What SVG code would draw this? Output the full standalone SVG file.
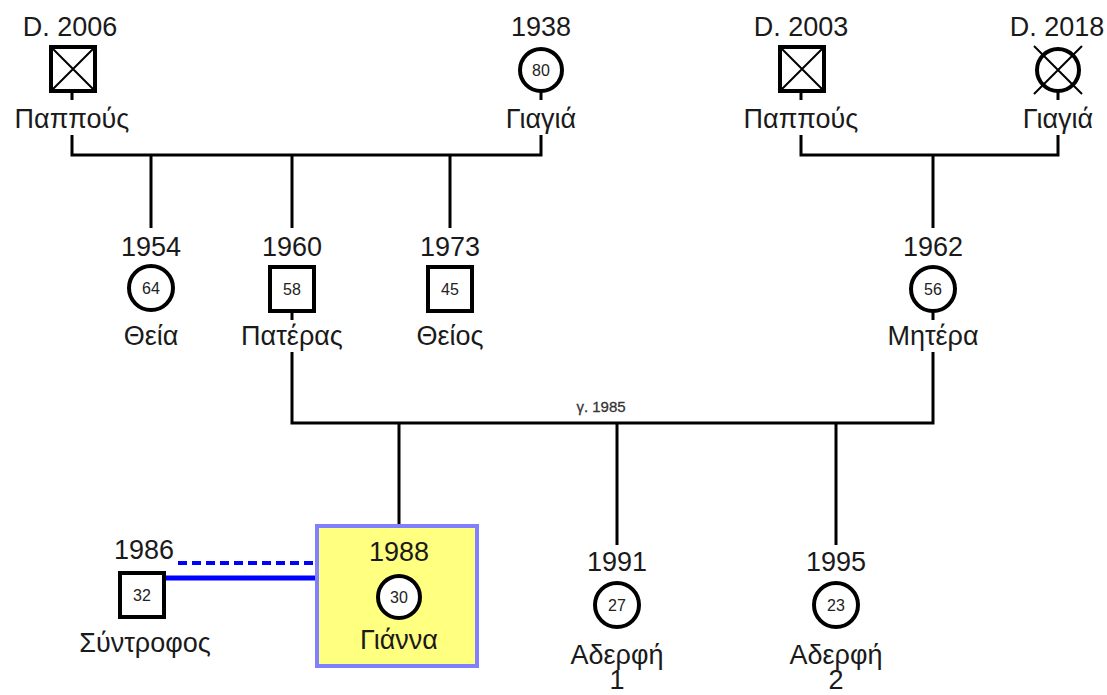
<svg xmlns="http://www.w3.org/2000/svg" width="1107" height="695" viewBox="0 0 1107 695">
<style>
.t{font-family:"Liberation Sans",Arial,sans-serif;font-size:27px;fill:#1a1a1a;text-anchor:middle}
.a{font-family:"Liberation Sans",Arial,sans-serif;font-size:16px;fill:#222;text-anchor:middle}
.n{fill:#fff;stroke:#000;stroke-width:4}
.x{stroke:#000;stroke-width:2}
.c{fill:none;stroke:#000;stroke-width:3}
</style>
<rect width="1107" height="695" fill="#fff"/>
<g id="connectors">
<path class="c" d="M72 92V100M72 135V155H541V135M541 92V100M151 155V228M292 155V228M450 155V228"/>
<path class="c" d="M801 92V100M801 135V155H1058V135M1058 92V100M933 155V228"/>
<path class="c" d="M292 312V320M292 352V423H933V352M933 312V320M399 423V525M617 423V545M836 423V545"/>
<path d="M166 578H317" stroke="#0000ff" stroke-width="5" fill="none"/>
<path d="M178 563H317" stroke="#0000ff" stroke-width="4" stroke-dasharray="9 5" fill="none"/>
<text class="a" x="601" y="412" style="font-size:15px;fill:#333;stroke:#333;stroke-width:0.3">γ. 1985</text>
</g>
<g id="grandfather1">
<text class="t" x="70" y="36">D. 2006</text>
<rect class="n" x="51" y="47" width="44" height="44"/>
<path class="x" d="M53 49L93 89M93 49L53 89"/>
<text class="t" x="72" y="128">Παππούς</text>
</g>
<g id="grandmother1">
<text class="t" x="541" y="36">1938</text>
<circle class="n" cx="541" cy="70" r="21"/>
<text class="a" x="541" y="76">80</text>
<text class="t" x="541" y="128">Γιαγιά</text>
</g>
<g id="grandfather2">
<text class="t" x="801" y="36">D. 2003</text>
<rect class="n" x="780" y="47" width="44" height="44"/>
<path class="x" d="M782 49L822 89M822 49L782 89"/>
<text class="t" x="801" y="128">Παππούς</text>
</g>
<g id="grandmother2">
<text class="t" x="1057" y="36">D. 2018</text>
<circle class="n" cx="1058" cy="70" r="21"/>
<path class="x" d="M1034 46L1082 94M1082 46L1034 94"/>
<text class="t" x="1058" y="128">Γιαγιά</text>
</g>
<g id="aunt">
<text class="t" x="151" y="256">1954</text>
<circle class="n" cx="151" cy="288" r="22"/>
<text class="a" x="151" y="294">64</text>
<text class="t" x="151" y="345">Θεία</text>
</g>
<g id="father">
<text class="t" x="292" y="256">1960</text>
<rect class="n" x="270" y="267" width="44" height="44"/>
<text class="a" x="292" y="295">58</text>
<text class="t" x="292" y="345">Πατέρας</text>
</g>
<g id="uncle">
<text class="t" x="450" y="256">1973</text>
<rect class="n" x="428" y="267" width="44" height="44"/>
<text class="a" x="450" y="295">45</text>
<text class="t" x="450" y="345">Θείος</text>
</g>
<g id="mother">
<text class="t" x="933" y="256">1962</text>
<circle class="n" cx="933" cy="289" r="22"/>
<text class="a" x="933" y="295">56</text>
<text class="t" x="933" y="345">Μητέρα</text>
</g>
<g id="gianna">
<rect x="317" y="526" width="160" height="140" fill="#ffff80" stroke="#8080ff" stroke-width="4"/>
<text class="t" x="399" y="561">1988</text>
<circle class="n" cx="399" cy="597" r="21"/>
<text class="a" x="399" y="603">30</text>
<text class="t" x="399" y="649">Γιάννα</text>
</g>
<g id="partner">
<text class="t" x="144" y="559">1986</text>
<rect class="n" x="120" y="573" width="44" height="44"/>
<text class="a" x="142" y="601">32</text>
<text class="t" x="145" y="652">Σύντροφος</text>
</g>
<g id="sister1">
<text class="t" x="617" y="571">1991</text>
<circle class="n" cx="617" cy="605" r="22"/>
<text class="a" x="617" y="611">27</text>
<text class="t" x="617" y="664">Αδερφή<tspan x="617" dy="25">1</tspan></text>
</g>
<g id="sister2">
<text class="t" x="836" y="571">1995</text>
<circle class="n" cx="836" cy="605" r="22"/>
<text class="a" x="836" y="611">23</text>
<text class="t" x="836" y="664">Αδερφή<tspan x="836" dy="25">2</tspan></text>
</g>
</svg>
